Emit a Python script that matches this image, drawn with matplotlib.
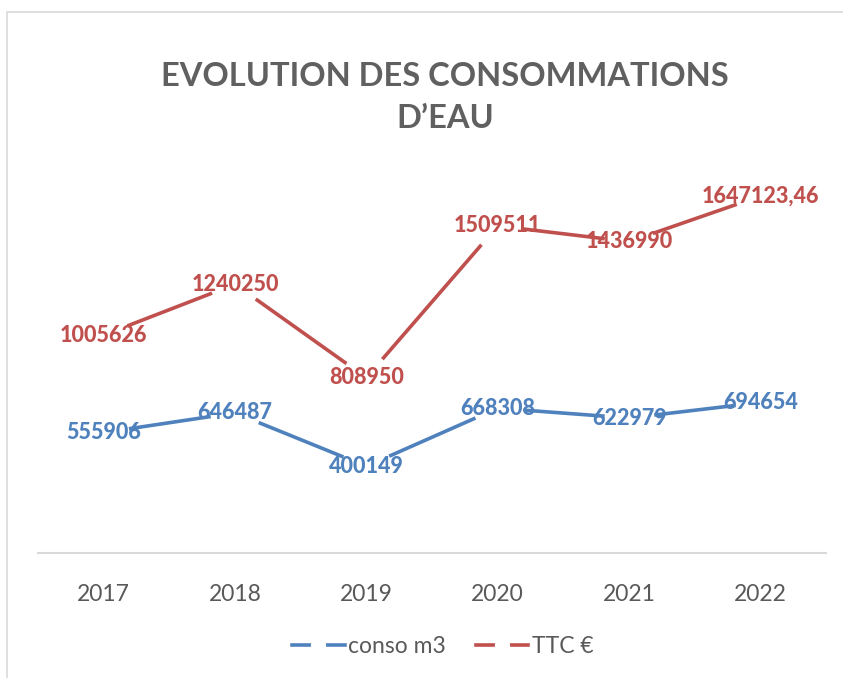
import matplotlib
matplotlib.use("Agg")
import matplotlib.pyplot as plt
from matplotlib.lines import Line2D
from matplotlib.patches import Rectangle

plt.rcParams['font.family'] = ['Lato', 'DejaVu Sans']

# donnees
annees = ['2017', '2018', '2019', '2020', '2021', '2022']
conso_m3 = [555906, 646487, 400149, 668308, 622979, 694654]
ttc_eur = [1005626, 1240250, 808950, 1509511, 1436990, 1647123.46]
etiquettes_conso = ['555906', '646487', '400149', '668308', '622979', '694654']
etiquettes_ttc = ['1005626', '1240250', '808950', '1509511', '1436990', '1647123,46']

bleu = '#4f81bd'
rouge = '#c0504d'
gris = '#595959'

fig = plt.figure(figsize=(8.43, 6.78), dpi=100)
ax = fig.add_axes([0.045, 0.1844, 0.935, 0.5752])

# cadre du graphique (gris clair)
fig.patches.append(Rectangle((7 / 843, -0.1), 1.2, (678 - 12) / 678 + 0.1,
                             transform=fig.transFigure, fill=False,
                             edgecolor='#d9d9d9', lw=1.2, clip_on=False))

x = list(range(len(annees)))
for serie, etiq, coul in [(conso_m3, etiquettes_conso, bleu), (ttc_eur, etiquettes_ttc, rouge)]:
    ax.plot(x, serie, color=coul, lw=2.6, solid_capstyle='butt', zorder=2)
    # le trou blanc autour de chaque point, comme dans Excel
    ax.plot(x, serie, ls='none', marker='o', ms=35, mfc='white', mec='white', zorder=3)
    for xi, v, t in zip(x, serie, etiq):
        ax.text(xi, v, t, ha='center', va='center', fontsize=15.5, fontweight='black',
                color=coul, zorder=4)

ax.set_xlim(-0.5, len(annees) - 0.5)
ax.set_ylim(0, 1800000)
ax.set_xticks(x)
ax.set_xticklabels(annees)
ax.tick_params(axis='x', length=0, labelsize=16.5, labelcolor=gris, pad=22)
ax.set_yticks([])
for s in ['top', 'left', 'right']:
    ax.spines[s].set_visible(False)
ax.spines['bottom'].set_color('#d9d9d9')
ax.spines['bottom'].set_linewidth(1.5)

fig.text(0.528, 0.856, "EVOLUTION DES CONSOMMATIONS\nD\u2019EAU", ha='center', va='center',
         fontsize=23.5, fontweight='bold', color='#606060', linespacing=1.55)

poignees = [Line2D([], [], color=bleu, lw=2.6, marker='o', ms=10, mfc='white', mec='white'),
            Line2D([], [], color=rouge, lw=2.6, marker='o', ms=10, mfc='white', mec='white')]
fig.legend(poignees, ['conso m3', 'TTC \u20ac'], loc='center', bbox_to_anchor=(0.525, 0.046),
           ncol=2, frameon=False, fontsize=16.5, labelcolor=gris, handlelength=2.3,
           handletextpad=0.15, columnspacing=1.3, numpoints=1)

fig.savefig('out.png', dpi=100)
